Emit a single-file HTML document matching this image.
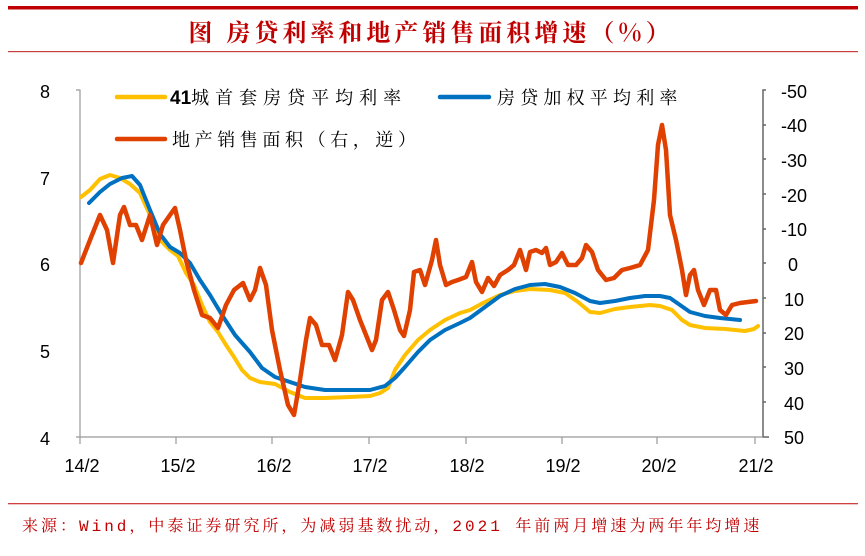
<!DOCTYPE html>
<html><head><meta charset="utf-8"><style>
body{margin:0;background:#fff;}
svg{display:block;font-family:"Liberation Sans","Noto Sans CJK SC",sans-serif;}
</style></head><body>
<svg width="865" height="556" viewBox="0 0 865 556">
<rect x="8" y="6" width="850" height="3.5" fill="#c00000"/>
<text x="431" y="41" text-anchor="middle" font-size="24" font-weight="bold" fill="#c00000" letter-spacing="4" font-family="'Noto Serif CJK SC','Noto Sans CJK SC',serif">图  房贷利率和地产销售面积增速（%）</text>
<rect x="8" y="51" width="850" height="1.2" fill="#c84040"/>
<g stroke="#999" stroke-width="1.2" fill="none">
<path d="M76 90 H80 V437"/>
<path d="M76 437 H762"/>
</g>
<g stroke="#999" stroke-width="1.2">
<line x1="80" y1="437" x2="80" y2="444"/>
<line x1="176" y1="437" x2="176" y2="444"/><line x1="272" y1="437" x2="272" y2="444"/>
<line x1="369" y1="437" x2="369" y2="444"/><line x1="466" y1="437" x2="466" y2="444"/>
<line x1="562" y1="437" x2="562" y2="444"/><line x1="657" y1="437" x2="657" y2="444"/>
<line x1="755" y1="437" x2="755" y2="444"/>
</g>
<g font-size="18" fill="#000" text-anchor="middle">
<text x="45" y="98">8</text><text x="45" y="185">7</text><text x="45" y="271">6</text><text x="45" y="358">5</text><text x="45" y="445">4</text>
</g>
<path d="M766 90 H763 V437 H769" stroke="#666" stroke-width="1.5" fill="none"/>
<g stroke="#666" stroke-width="1.5">
<line x1="763" y1="125" x2="766" y2="125"/><line x1="763" y1="159" x2="766" y2="159"/><line x1="763" y1="194" x2="766" y2="194"/><line x1="763" y1="229" x2="766" y2="229"/><line x1="763" y1="263" x2="766" y2="263"/><line x1="763" y1="298" x2="766" y2="298"/><line x1="763" y1="333" x2="766" y2="333"/><line x1="763" y1="367" x2="766" y2="367"/><line x1="763" y1="402" x2="766" y2="402"/>
</g>
<g font-size="18" fill="#000">
<text x="781" y="98">-50</text><text x="781" y="132">-40</text><text x="781" y="167">-30</text><text x="781" y="202">-20</text><text x="781" y="236">-10</text><text x="788" y="271">0</text><text x="784" y="306">10</text><text x="784" y="340">20</text><text x="784" y="375">30</text><text x="784" y="410">40</text><text x="784" y="444">50</text>
</g>
<g font-size="18" fill="#000" text-anchor="middle">
<text x="82" y="472">14/2</text><text x="178" y="472">15/2</text><text x="274" y="472">16/2</text><text x="370" y="472">17/2</text><text x="467" y="472">18/2</text><text x="563" y="472">19/2</text><text x="659" y="472">20/2</text><text x="756" y="472">21/2</text>
</g>
<line x1="117" y1="97" x2="165" y2="97" stroke="#ffc000" stroke-width="4.5" stroke-linecap="round"/>
<text x="170" y="104" font-size="19" fill="#000"><tspan font-weight="bold">41</tspan><tspan font-family="'Noto Serif CJK SC',serif" font-size="18" letter-spacing="6">城首套房贷平均利率</tspan></text>
<line x1="440" y1="97" x2="489" y2="97" stroke="#0070c0" stroke-width="4.5" stroke-linecap="round"/>
<text x="497" y="104" font-size="18" fill="#000" letter-spacing="5.2" font-family="'Noto Serif CJK SC',serif">房贷加权平均利率</text>
<line x1="117" y1="139" x2="165" y2="139" stroke="#e04000" stroke-width="4.5" stroke-linecap="round"/>
<text x="172" y="146" font-size="18" fill="#000" letter-spacing="4.6" font-family="'Noto Serif CJK SC',serif">地产销售面积（右，逆）</text>
<g fill="none" stroke-width="4" stroke-linejoin="round" stroke-linecap="round">
<polyline stroke="#ffc000" points="81,197 90,190 100,179 110,175 120,178 130,184 140,193 150,215 160,240 170,250 178,256 186,273 194,285 202,305 210,322 218,332 226,345 234,357 242,370 250,378 260,382 275,384 290,392 305,398 325,398 350,397 370,396 380,393 388,388 395,370 405,355 418,340 430,330 445,320 460,313 470,310 485,302 500,295 515,291 530,289 550,290 565,293 578,302 590,312 600,313 615,309 630,307 650,305 660,306 672,310 682,320 690,325 705,328 725,329 745,331 754,329 758,326"/>
<polyline stroke="#0070c0" points="89,203 100,192 110,184 122,178 132,176 140,185 150,210 160,234 170,247 180,253 190,263 200,280 210,295 222,315 235,335 250,352 262,368 275,377 290,382 305,387 325,390 345,390 370,390 385,386 395,378 405,367 418,352 430,340 445,330 460,323 470,318 485,307 500,296 515,289 530,285 545,284 560,287 575,293 590,301 600,303 615,301 630,298 645,296 660,296 670,298 680,305 690,312 705,316 720,318 740,320"/>
<polyline stroke="#e04000" stroke-width="4.5" points="81,263 90,240 100,215 107,230 113,263 120,215 124,207 130,225 136,225 142,240 150,215 157,245 163,225 170,215 175,208 180,230 186,260 194,290 202,315 210,318 218,328 226,305 234,290 243,283 250,300 255,290 260,268 266,285 272,330 280,370 288,405 294,415 300,380 306,340 310,318 316,325 322,345 329,345 335,360 342,335 348,292 353,300 360,320 366,335 372,350 376,340 382,300 388,292 394,310 400,330 404,336 410,310 414,272 420,270 425,285 432,260 436,240 440,265 446,285 452,282 458,280 466,277 472,262 476,282 482,292 488,278 494,286 500,275 508,270 514,265 520,250 526,270 530,252 536,250 542,253 546,248 550,265 556,262 562,253 568,265 576,265 582,258 586,245 592,252 598,270 606,280 614,278 622,270 630,268 640,265 648,250 654,200 658,145 662,125 666,150 670,215 676,240 682,270 686,295 690,275 694,270 698,290 704,305 710,290 716,290 720,310 726,315 732,305 740,303 756,301"/>
</g>
<rect x="8" y="503" width="850" height="1.3" fill="#d04040"/>
<text x="22" y="531" font-size="16" fill="#c00000" letter-spacing="3" font-family="'Liberation Mono','Noto Serif CJK SC',monospace">来源：Wind，中泰证券研究所，为减弱基数扰动，2021 年前两月增速为两年年均增速</text>
</svg>
</body></html>
